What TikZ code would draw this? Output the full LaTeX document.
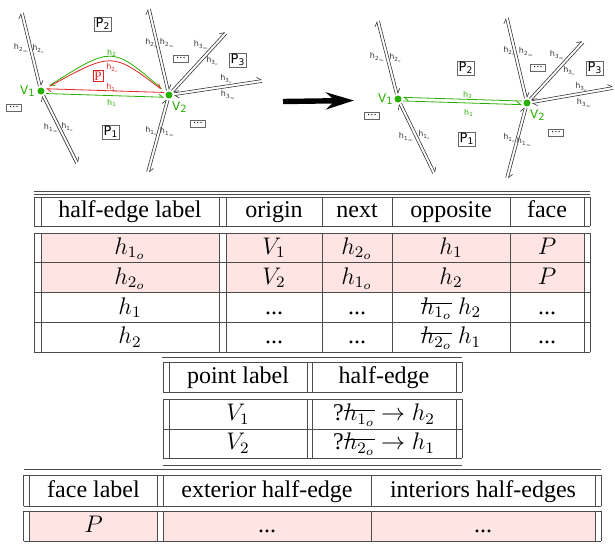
\RequirePackage{fix-cm}
\documentclass[tikz,border=0pt]{standalone}
\usepackage{fontspec}
\setmainfont{Liberation Serif}
\setsansfont{DejaVu Sans}
\usepackage{tikz}
\usetikzlibrary{arrows.meta, calc}
\definecolor{hijau}{RGB}{40,175,0}
\definecolor{merah}{RGB}{225,35,35}
\definecolor{merahmuda}{RGB}{255,228,228}
\newsavebox\coretbox
\newcommand\coret[1]{\sbox\coretbox{$#1$}\rlap{\usebox\coretbox}\rule[0.9ex]{\wd\coretbox}{0.45pt}}
\newcommand\hl[2]{$\mathsf{h}_{\mathsf{#1}_{#2}}$}

\begin{document}
\begin{tikzpicture}[x=0.5pt, y=-0.5pt,
    garis/.style={draw=black!70, line width=0.5pt},
    sel/.style={anchor=base, inner sep=0pt, font=\fontsize{12}{14.5}\selectfont},
    sisi/.style={draw=black!80, line width=0.3pt},
    ujung/.style={-{Straight Barb[harpoon, length=2pt, width=3pt]}},
    titik/.style={circle, fill=hijau, inner sep=0pt, minimum size=3.5pt},
    labelh/.style={inner sep=0pt, font=\fontsize{4}{5}\selectfont, text=black!80},
    labelV/.style={inner sep=0pt, text=hijau, font=\fontsize{6}{7}\selectfont},
    kotak/.style={draw=black!60, line width=0.3pt, inner sep=0.6pt, font=\fontsize{6.5}{7}\selectfont},
    titiktiga/.style={draw=black!60, line width=0.3pt, minimum width=7.5pt, minimum height=3.3pt,
                      inner sep=0pt, font=\sffamily\fontsize{5}{3}\selectfont},
    panahbesar/.style={-{Stealth[length=14pt, width=8.5pt]}, line width=2.7pt}
  ]
    \useasboundingbox (0,0) rectangle (615,547);

    % diagram kiri
    \node[titik] (V1) at (41,91) {};
    \node[titik] (V2) at (169,95) {};
    \coordinate (a1) at (22,13);
    \coordinate (a2) at (77,163);
    \coordinate (b1) at (149,9);
    \coordinate (b2) at (148,172);
    \coordinate (b3) at (226,33);
    \coordinate (b4) at (262,81);
    \foreach \u/\v in {V1/a1, V1/a2, V2/b1, V2/b2, V2/b3, V2/b4} {
      \draw[sisi, ujung, shorten <=2.5pt] ($(\u)!0.7pt!90:(\v)$) -- ($(\v)!0.7pt!-90:(\u)$);
      \draw[sisi, ujung, shorten >=2.5pt] ($(\v)!0.7pt!90:(\u)$) -- ($(\u)!0.7pt!-90:(\v)$);
    }
    \draw[hijau, line width=0.4pt, ujung, shorten <=3pt, shorten >=3pt] (V2) .. controls (112,46) .. (V1);
    \draw[merah, line width=0.4pt, ujung, shorten <=3pt, shorten >=3pt] (V1) .. controls (112,52) .. (V2);
    \draw[merah, line width=0.4pt, ujung, shorten <=2.5pt, shorten >=2.5pt]
      ($(V2)!1.2pt!-90:(V1)$) -- ($(V1)!1.2pt!90:(V2)$);
    \draw[hijau, line width=0.4pt, ujung, shorten <=2.5pt, shorten >=2.5pt]
      ($(V1)!1.2pt!-90:(V2)$) -- ($(V2)!1.2pt!90:(V1)$);

    \node[labelV] (nV1) at (28,91) {$\mathsf{V}_\mathsf{1}$};
    \node[labelV] (nV2) at (180,107) {$\mathsf{V}_\mathsf{2}$};
    \node[labelh] (la1) at (22,48) {\hl{2}{\infty}};
    \node[labelh] (la2) at (39,49) {\hl{2}{o}};
    \node[labelh] (la3) at (52,128) {\hl{1}{\infty}};
    \node[labelh] (la4) at (68,127) {\hl{1}{o}};
    \node[labelh] (lb1) at (152,43) {\hl{2}{o}};
    \node[labelh] (lb2) at (168,43) {\hl{2}{\infty}};
    \node[labelh] (lb3) at (202,45) {\hl{3}{\infty}};
    \node[labelh] (lb4) at (213,61) {\hl{3}{o}};
    \node[labelh] (lb5) at (227,79) {\hl{3}{o}};
    \node[labelh] (lb6) at (229,95) {\hl{3}{\infty}};
    \node[labelh] (lb7) at (152,131) {\hl{1}{o}};
    \node[labelh] (lb8) at (168,132) {\hl{1}{\infty}};
    \node[labelh, text=hijau] (lh2) at (112,53) {$\mathsf{h}_\mathsf{2}$};
    \node[labelh, text=merah] (lh2o) at (113,68) {\hl{2}{o}};
    \node[labelh, text=merah] (lh1o) at (113,88) {\hl{1}{o}};
    \node[labelh, text=hijau] (lh1) at (112,103) {$\mathsf{h}_\mathsf{1}$};
    \node[kotak, draw=merah, text=merah] (P) at (98,76) {P};
    \node[kotak] (P2) at (103,24) {$\mathsf{P}_\mathsf{2}$};
    \node[kotak] (P3) at (238,60) {$\mathsf{P}_\mathsf{3}$};
    \node[kotak] (P1) at (111,132) {$\mathsf{P}_\mathsf{1}$};
    \node[titiktiga] (d1) at (14,108) {···};
    \node[titiktiga] (d2) at (181,59) {···};
    \node[titiktiga] (d3) at (198,124) {···};

    \coordinate (panahA) at (283,101.5);
    \coordinate (panahB) at (354,100.5);
    \draw[panahbesar] (panahA) -- (panahB);

    % diagram kanan
    \node[titik] (W1) at (398,99) {};
    \node[titik] (W2) at (527,103) {};
    \coordinate (c1) at (378,21);
    \coordinate (c2) at (434,173);
    \coordinate (e1) at (507,18);
    \coordinate (e2) at (507,178);
    \coordinate (e3) at (583,42);
    \coordinate (e4) at (613,88);
    \foreach \u/\v in {W1/c1, W1/c2, W2/e1, W2/e2, W2/e3, W2/e4} {
      \draw[sisi, ujung, shorten <=2.5pt] ($(\u)!0.7pt!90:(\v)$) -- ($(\v)!0.7pt!-90:(\u)$);
      \draw[sisi, ujung, shorten >=2.5pt] ($(\v)!0.7pt!90:(\u)$) -- ($(\u)!0.7pt!-90:(\v)$);
    }
    \draw[hijau, line width=0.4pt, ujung, shorten <=2.5pt, shorten >=2.5pt]
      ($(W2)!0.9pt!-90:(W1)$) -- ($(W1)!0.9pt!90:(W2)$);
    \draw[hijau, line width=0.4pt, ujung, shorten <=2.5pt, shorten >=2.5pt]
      ($(W1)!0.9pt!-90:(W2)$) -- ($(W2)!0.9pt!90:(W1)$);

    \node[labelV] (nW1) at (386,99) {$\mathsf{V}_\mathsf{1}$};
    \node[labelV] (nW2) at (538,115) {$\mathsf{V}_\mathsf{2}$};
    \node[labelh] (lc1) at (378,57) {\hl{2}{\infty}};
    \node[labelh] (lc2) at (396,58) {\hl{2}{o}};
    \node[labelh] (lc3) at (407,137) {\hl{1}{\infty}};
    \node[labelh] (lc4) at (425,135) {\hl{1}{o}};
    \node[labelh] (le1) at (510,51) {\hl{2}{o}};
    \node[labelh] (le2) at (527,52) {\hl{2}{\infty}};
    \node[labelh] (le3) at (558,55) {\hl{3}{\infty}};
    \node[labelh] (le4) at (570,71) {\hl{3}{o}};
    \node[labelh] (le5) at (582,87) {\hl{3}{o}};
    \node[labelh] (le6) at (585,103) {\hl{3}{\infty}};
    \node[labelh] (le7) at (510,138) {\hl{1}{o}};
    \node[labelh] (le8) at (525,142) {\hl{1}{\infty}};
    \node[labelh, text=hijau] (lk2) at (468,95) {$\mathsf{h}_\mathsf{2}$};
    \node[labelh, text=hijau] (lk1) at (469,113) {$\mathsf{h}_\mathsf{1}$};
    \node[kotak] (Q2) at (466,68) {$\mathsf{P}_\mathsf{2}$};
    \node[kotak] (Q3) at (595,68) {$\mathsf{P}_\mathsf{3}$};
    \node[kotak] (Q1) at (467,139) {$\mathsf{P}_\mathsf{1}$};
    \node[titiktiga] (f1) at (372,116) {···};
    \node[titiktiga] (f2) at (538,68) {···};
    \node[titiktiga] (f3) at (556,133) {···};

    % tabel half-edge
    \fill[merahmuda] (41,233) rectangle (219,292.5);
    \fill[merahmuda] (226,233) rectangle (584,292.5);
    \foreach \y in {191,194,197,226,233,262.5,292.5,322.5,352}
      \draw[garis] (34,\y) -- (590,\y);
    \foreach \x in {34,41,219,226,322,392,510,584,590} {
      \draw[garis] (\x,197) -- (\x,226);
      \draw[garis] (\x,233) -- (\x,352);
    }
    \node[sel] (k11) at (130,217.5) {half-edge label};
    \node[sel] (k12) at (274,217.5) {origin};
    \node[sel] (k13) at (357,217.5) {next};
    \node[sel] (k14) at (451,217.5) {opposite};
    \node[sel] (k15) at (547,217.5) {face};
    \node[sel] (r11) at (130,254) {$h_{1_o}$};
    \node[sel] (r12) at (274,254) {$V_1$};
    \node[sel] (r13) at (357,254) {$h_{2_o}$};
    \node[sel] (r14) at (451,254) {$h_1$};
    \node[sel] (r15) at (547,254) {$P$};
    \node[sel] (r21) at (130,284) {$h_{2_o}$};
    \node[sel] (r22) at (274,284) {$V_2$};
    \node[sel] (r23) at (357,284) {$h_{1_o}$};
    \node[sel] (r24) at (451,284) {$h_2$};
    \node[sel] (r25) at (547,284) {$P$};
    \node[sel] (r31) at (130,314) {$h_1$};
    \node[sel] (r32) at (274,314) {...};
    \node[sel] (r33) at (357,314) {...};
    \node[sel] (r34) at (451,314) {\coret{h_{1_o}} $h_2$};
    \node[sel] (r35) at (547,314) {...};
    \node[sel] (r41) at (130,343.5) {$h_2$};
    \node[sel] (r42) at (274,343.5) {...};
    \node[sel] (r43) at (357,343.5) {...};
    \node[sel] (r44) at (451,343.5) {\coret{h_{2_o}} $h_1$};
    \node[sel] (r45) at (547,343.5) {...};

    % tabel titik
    \draw[garis] (162,357) -- (462,357);
    \foreach \y in {362,392,399,429,458,465}
      \draw[garis] (163,\y) -- (462,\y);
    \foreach \x in {163.5,169,307,312.5,456,462} {
      \draw[garis] (\x,362) -- (\x,392);
      \draw[garis] (\x,399) -- (\x,458);
    }
    \node[sel] (k21) at (238,383.5) {point label};
    \node[sel] (k22) at (384,383.5) {half-edge};
    \node[sel] (s11) at (238,420.5) {$V_1$};
    \node[sel] (s12) at (384,420.5) {?\coret{h_{1_o}} $\to h_2$};
    \node[sel] (s21) at (238,449.5) {$V_2$};
    \node[sel] (s22) at (384,449.5) {?\coret{h_{2_o}} $\to h_1$};

    % tabel muka
    \fill[merahmuda] (29.5,511) rectangle (157.5,541);
    \fill[merahmuda] (163.5,511) rectangle (595,541);
    \foreach \y in {469,475,506,511,541}
      \draw[garis] (23.5,\y) -- (601,\y);
    \foreach \x in {23.5,29.5,157.5,163.5,371,595,601} {
      \draw[garis] (\x,475) -- (\x,506);
      \draw[garis] (\x,511) -- (\x,541);
    }
    \node[sel] (k31) at (93.5,497.5) {face label};
    \node[sel] (k32) at (267,497.5) {exterior half-edge};
    \node[sel] (k33) at (483,497.5) {interiors half-edges};
    \node[sel] (m11) at (93.5,532.5) {$P$};
    \node[sel] (m12) at (267,532.5) {...};
    \node[sel] (m13) at (483,532.5) {...};
  \end{tikzpicture}
\end{document}
